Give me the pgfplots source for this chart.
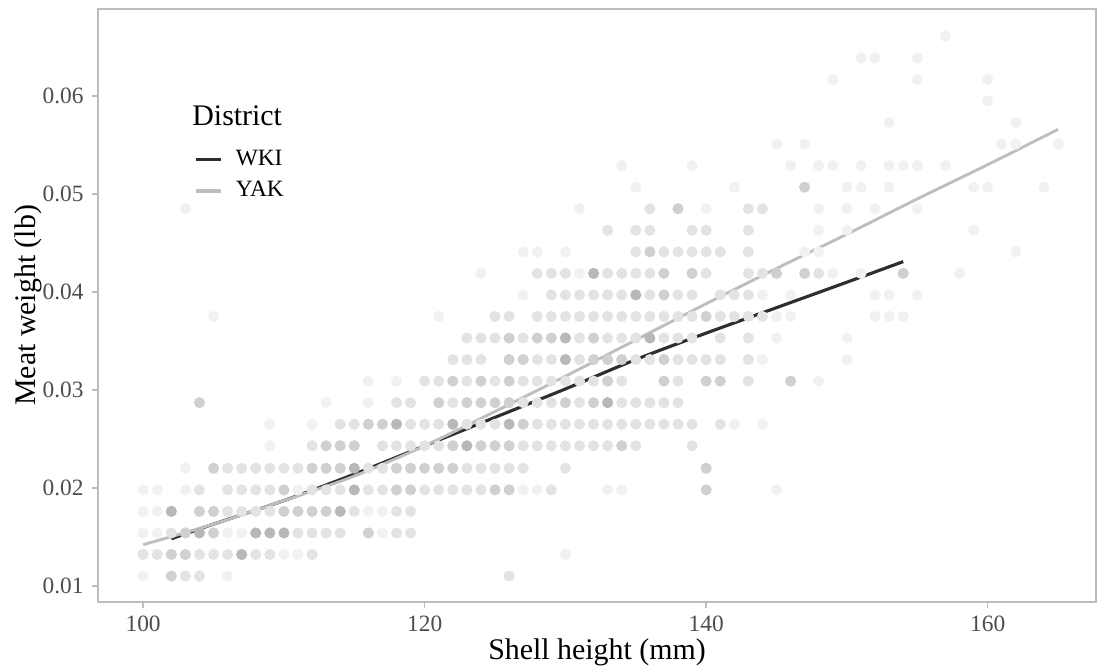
\documentclass[border=0pt]{standalone}
\usepackage{fontspec}
\setmainfont{Liberation Serif}
\usepackage{pgfplots}
\pgfplotsset{compat=1.18}
\definecolor{frame}{HTML}{BDBDBD}
\definecolor{ticktxt}{HTML}{4D4D4D}
\definecolor{wki}{HTML}{2E2E2E}
\definecolor{yak}{HTML}{BEBEBE}
\definecolor{p1}{HTML}{F1F1F1}
\definecolor{p2}{HTML}{E3E3E3}
\definecolor{p3}{HTML}{D0D0D0}
\definecolor{p4}{HTML}{B8B8B8}
\begin{document}
\begin{tikzpicture}
\path[use as bounding box] (-40.7pt,-28.6pt) rectangle (414.4pt,249.7pt);
\begin{axis}[
  at={(0,0)}, anchor=south west,
  scale only axis, width=414pt, height=246pt,
  xmin=96.8, xmax=167.7, ymin=0.00836, ymax=0.0689,
  scaled x ticks=false, scaled y ticks=false,
  xtick={100,120,140,160}, xticklabels={100,120,140,160},
  ytick={0.01,0.02,0.03,0.04,0.05,0.06},
  yticklabels={0.01,0.02,0.03,0.04,0.05,0.06},
  xtick pos=lower, ytick pos=left, tick align=outside,
  major tick length=2.5pt,
  axis line style={frame, line width=0.6pt},
  tick style={frame, line width=0.6pt},
  tick label style={font=\fontsize{9.7}{11}\selectfont, text=ticktxt},
  label style={font=\fontsize{12.4}{14}\selectfont},
  xlabel={Shell height (mm)}, ylabel={Meat weight (lb)},
  xlabel style={at={(axis description cs:0.5,-0.0843)}, anchor=center},
  ylabel style={at={(axis description cs:-0.0701,0.5)}, anchor=center},
  legend style={at={(axis description cs:0.0952,0.771)}, anchor=north west,
    draw=none, fill=none, inner sep=0pt, font=\fontsize{9.7}{11}\selectfont,
    row sep=1.2pt, column sep=3.5pt, cells={anchor=west}},
  legend image code/.code={\draw[#1, line width=1.6pt] (0pt,0pt) -- (10.4pt,0pt);},
  pts/.style={only marks, mark=*, mark size=2.1pt, color=#1, mark options={draw=none, fill=#1}, forget plot},
]
% very light points
\addplot[pts=p1] coordinates {
(100,0.0110) (106,0.0110)
(110,0.0132) (111,0.0132) (130,0.0132)
(100,0.0154) (101,0.0154) (106,0.0154) (107,0.0154) (117,0.0154)
(100,0.0176) (101,0.0176) (116,0.0176) (117,0.0176)
(100,0.0198) (101,0.0198) (103,0.0198) (111,0.0198) (127,0.0198) (128,0.0198) (133,0.0198) (134,0.0198) (145,0.0198)
(103,0.0220)
(109,0.0243)
(109,0.0265) (112,0.0265) (142,0.0265) (144,0.0265)
(113,0.0287) (116,0.0287)
(116,0.0309) (118,0.0309) (148,0.0309)
(144,0.0331) (150,0.0331)
(145,0.0353) (150,0.0353)
(105,0.0375) (121,0.0375) (145,0.0375) (146,0.0375) (152,0.0375) (153,0.0375) (154,0.0375)
(127,0.0397) (144,0.0397) (146,0.0397) (152,0.0397) (153,0.0397) (155,0.0397)
(124,0.0419) (131,0.0419) (149,0.0419) (151,0.0419) (158,0.0419)
(127,0.0441) (128,0.0441) (130,0.0441) (147,0.0441) (148,0.0441) (162,0.0441)
(148,0.0463) (150,0.0463) (159,0.0463)
(103,0.0485) (131,0.0485) (140,0.0485) (148,0.0485) (150,0.0485) (152,0.0485) (155,0.0485)
(135,0.0507) (142,0.0507) (150,0.0507) (151,0.0507) (153,0.0507) (159,0.0507) (160,0.0507) (164,0.0507)
(134,0.0529) (139,0.0529) (146,0.0529) (148,0.0529) (149,0.0529) (151,0.0529) (153,0.0529) (154,0.0529) (155,0.0529) (157,0.0529)
(145,0.0551) (147,0.0551) (161,0.0551) (162,0.0551) (165,0.0551)
(153,0.0573) (162,0.0573)
(160,0.0595)
(149,0.0617) (155,0.0617) (160,0.0617)
(151,0.0639) (152,0.0639) (155,0.0639)
(157,0.0661)
};
% light points
\addplot[pts=p2] coordinates {
(103,0.0110) (104,0.0110) (126,0.0110)
(100,0.0132) (101,0.0132) (104,0.0132) (105,0.0132) (106,0.0132) (108,0.0132) (109,0.0132) (112,0.0132)
(102,0.0154) (111,0.0154) (112,0.0154) (113,0.0154) (114,0.0154) (118,0.0154) (119,0.0154)
(106,0.0176) (107,0.0176) (108,0.0176) (109,0.0176) (115,0.0176) (118,0.0176) (119,0.0176)
(104,0.0198) (106,0.0198) (107,0.0198) (108,0.0198) (109,0.0198) (112,0.0198) (113,0.0198) (114,0.0198) (116,0.0198) (117,0.0198) (120,0.0198) (121,0.0198) (122,0.0198) (123,0.0198) (124,0.0198) (129,0.0198)
(106,0.0220) (107,0.0220) (108,0.0220) (109,0.0220) (110,0.0220) (111,0.0220) (116,0.0220) (117,0.0220) (123,0.0220) (124,0.0220) (125,0.0220) (126,0.0220) (127,0.0220) (130,0.0220)
(112,0.0243) (117,0.0243) (118,0.0243) (119,0.0243) (120,0.0243) (121,0.0243) (127,0.0243) (128,0.0243) (129,0.0243) (130,0.0243) (131,0.0243) (132,0.0243) (133,0.0243) (135,0.0243) (139,0.0243)
(114,0.0265) (115,0.0265) (119,0.0265) (120,0.0265) (121,0.0265) (123,0.0265) (124,0.0265) (125,0.0265) (128,0.0265) (129,0.0265) (130,0.0265) (131,0.0265) (132,0.0265) (133,0.0265) (134,0.0265) (135,0.0265) (136,0.0265) (137,0.0265) (138,0.0265) (139,0.0265) (141,0.0265)
(118,0.0287) (119,0.0287) (122,0.0287) (127,0.0287) (128,0.0287) (129,0.0287) (131,0.0287) (134,0.0287) (135,0.0287) (136,0.0287) (137,0.0287) (138,0.0287)
(120,0.0309) (121,0.0309) (123,0.0309) (125,0.0309) (127,0.0309) (128,0.0309) (129,0.0309) (130,0.0309) (131,0.0309) (132,0.0309) (134,0.0309) (138,0.0309) (143,0.0309)
(122,0.0331) (123,0.0331) (124,0.0331) (128,0.0331) (129,0.0331) (131,0.0331) (135,0.0331) (136,0.0331) (138,0.0331) (139,0.0331) (140,0.0331) (141,0.0331) (143,0.0331)
(123,0.0353) (124,0.0353) (125,0.0353) (127,0.0353) (131,0.0353) (133,0.0353) (134,0.0353) (135,0.0353) (137,0.0353) (138,0.0353) (139,0.0353) (141,0.0353) (143,0.0353)
(125,0.0375) (126,0.0375) (128,0.0375) (129,0.0375) (130,0.0375) (131,0.0375) (132,0.0375) (133,0.0375) (134,0.0375) (135,0.0375) (136,0.0375) (137,0.0375) (138,0.0375) (139,0.0375) (141,0.0375) (142,0.0375) (143,0.0375) (144,0.0375)
(129,0.0397) (130,0.0397) (131,0.0397) (132,0.0397) (133,0.0397) (134,0.0397) (136,0.0397) (138,0.0397) (139,0.0397) (141,0.0397) (142,0.0397) (143,0.0397)
(128,0.0419) (129,0.0419) (130,0.0419) (133,0.0419) (134,0.0419) (135,0.0419) (136,0.0419) (140,0.0419) (143,0.0419) (144,0.0419) (148,0.0419)
(135,0.0441) (137,0.0441) (138,0.0441) (139,0.0441) (140,0.0441) (141,0.0441) (143,0.0441)
(133,0.0463) (135,0.0463) (136,0.0463) (139,0.0463) (140,0.0463) (143,0.0463)
(136,0.0485) (143,0.0485) (144,0.0485)
};
% medium points
\addplot[pts=p3] coordinates {
(102,0.0110)
(102,0.0132) (103,0.0132)
(103,0.0154) (105,0.0154) (116,0.0154)
(104,0.0176) (105,0.0176) (110,0.0176) (111,0.0176) (112,0.0176) (113,0.0176)
(110,0.0198) (118,0.0198) (119,0.0198) (125,0.0198) (126,0.0198) (140,0.0198)
(105,0.0220) (112,0.0220) (113,0.0220) (114,0.0220) (118,0.0220) (119,0.0220) (120,0.0220) (121,0.0220) (122,0.0220) (140,0.0220)
(113,0.0243) (114,0.0243) (115,0.0243) (122,0.0243) (124,0.0243) (125,0.0243) (126,0.0243) (134,0.0243)
(116,0.0265) (117,0.0265) (127,0.0265)
(104,0.0287) (121,0.0287) (123,0.0287) (124,0.0287) (125,0.0287) (126,0.0287) (130,0.0287) (132,0.0287)
(122,0.0309) (124,0.0309) (126,0.0309) (133,0.0309) (137,0.0309) (140,0.0309) (141,0.0309) (146,0.0309)
(126,0.0331) (127,0.0331) (132,0.0331) (133,0.0331) (134,0.0331) (137,0.0331)
(126,0.0353) (128,0.0353) (129,0.0353) (132,0.0353)
(140,0.0375)
(137,0.0397)
(137,0.0419) (139,0.0419) (145,0.0419) (147,0.0419) (154,0.0419)
(136,0.0441)
(138,0.0485)
(147,0.0507)
};
% dark points
\addplot[pts=p4] coordinates {
(107,0.0132)
(104,0.0154) (108,0.0154) (109,0.0154) (110,0.0154)
(102,0.0176) (114,0.0176)
(115,0.0198)
(115,0.0220)
(123,0.0243)
(118,0.0265) (122,0.0265) (126,0.0265)
(133,0.0287)
(130,0.0331)
(130,0.0353) (136,0.0353)
(135,0.0397)
(132,0.0419)
};
% fitted curves
\addplot[wki, line width=1.3pt, smooth] coordinates {
(102,0.0148) (105,0.0163) (110,0.0187) (115,0.0214) (120,0.0243) (125,0.0272)
(130,0.0301) (135,0.0331) (140,0.0358) (145,0.0384) (150,0.0410) (154,0.0431)
};
\addlegendentry{WKI}
\addplot[yak, line width=1.2pt, smooth] coordinates {
(100,0.0142) (105,0.0163) (110,0.0187) (115,0.0212) (120,0.0243) (125,0.0278)
(130,0.0314) (135,0.0351) (140,0.0388) (145,0.0424) (150,0.0459) (155,0.0495)
(160,0.0530) (165,0.0566)
};
\addlegendentry{YAK}
\node[anchor=base west, inner sep=0pt, font=\fontsize{12.4}{14}\selectfont] at (axis description cs:0.094,0.804) {District};
\end{axis}
\end{tikzpicture}
\end{document}
